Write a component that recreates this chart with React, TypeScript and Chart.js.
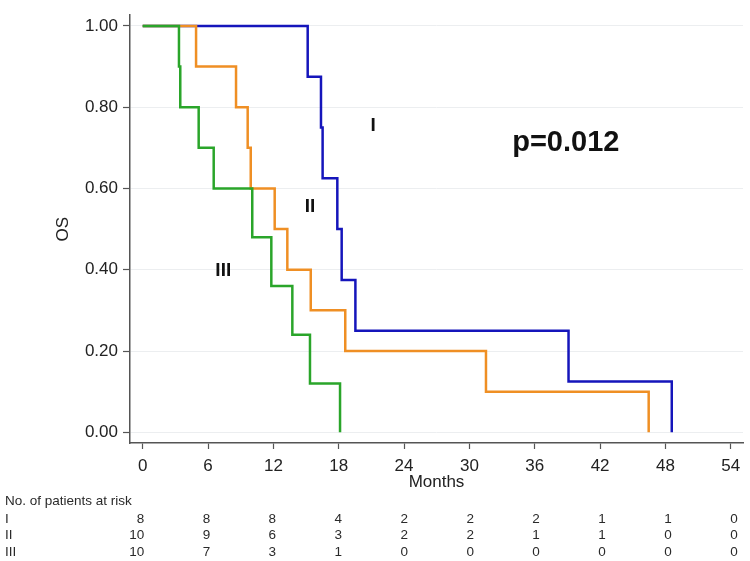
import React, { useEffect, useRef } from "react";
import { Chart, registerables } from "chart.js";

Chart.register(...registerables);

// ---- Data ----
const xTickValues = [0, 6, 12, 18, 24, 30, 36, 42, 48, 54];
const yTickValues = [0, 0.2, 0.4, 0.6, 0.8, 1.0];

const groupNames = ["I", "II", "III"];
const groupColors = ["#1515bb", "#ef8f24", "#2aa52a"];

const timesI = [0, 15.15, 16.37, 16.52, 17.87, 18.27, 19.53, 39.1, 48.58];
const survI = [1, 0.875, 0.75, 0.625, 0.5, 0.375, 0.25, 0.125, 0];

const timesII = [0, 4.9, 8.57, 9.64, 9.92, 12.12, 13.28, 15.43, 18.6, 31.52, 46.46];
const survII = [1, 0.9, 0.8, 0.7, 0.6, 0.5, 0.4, 0.3, 0.2, 0.1, 0];

const timesIII = [0, 3.33, 3.45, 5.14, 6.52, 10.06, 11.81, 13.74, 15.36, 18.12];
const survIII = [1, 0.9, 0.8, 0.7, 0.6, 0.48, 0.36, 0.24, 0.12, 0];

const riskHeader = "No. of patients at risk";
const riskI = [8, 8, 8, 4, 2, 2, 2, 1, 1, 0];
const riskII = [10, 9, 6, 3, 2, 2, 1, 1, 0, 0];
const riskIII = [10, 7, 3, 1, 0, 0, 0, 0, 0, 0];

const curveLabelX = [21.15, 15.36, 7.4];
const curveLabelY = [0.755, 0.554, 0.397];
const pValueText = "p=0.012";
const pValueX = 38.85;
const pValueY = 0.712;

const FONT = '"Liberation Sans", Arial, sans-serif';

const toPoints = (t: number[], s: number[]) => t.map((v, i) => ({ x: v, y: s[i] }));

const overlayPlugin = {
  id: "overlay",
  afterDraw(chart: any) {
    const { ctx } = chart;
    const x = chart.scales.x;
    const y = chart.scales.y;
    ctx.save();
    // curve labels
    ctx.fillStyle = "#111";
    ctx.textAlign = "center";
    ctx.textBaseline = "middle";
    ctx.font = `bold 19px ${FONT}`;
    groupNames.forEach((g, i) => {
      ctx.fillText(g, x.getPixelForValue(curveLabelX[i]), y.getPixelForValue(curveLabelY[i]));
    });
    ctx.font = `bold 29px ${FONT}`;
    ctx.fillText(pValueText, x.getPixelForValue(pValueX), y.getPixelForValue(pValueY));

    // risk table
    ctx.fillStyle = "#2a2a2a";
    ctx.font = `13.5px ${FONT}`;
    ctx.textAlign = "left";
    ctx.fillText(riskHeader, 5, 501);
    const rows = [riskI, riskII, riskIII];
    const rowY = [519, 535.5, 552];
    rows.forEach((row, r) => {
      ctx.textAlign = "left";
      ctx.fillText(groupNames[r], 5, rowY[r]);
      ctx.textAlign = "right";
      row.forEach((n, c) => {
        ctx.fillText(String(n), x.getPixelForValue(xTickValues[c]) + 1.5 + c * 0.6, rowY[r]);
      });
    });
    ctx.restore();
  },
};

export default function App() {
  const canvasRef = useRef<HTMLCanvasElement | null>(null);

  useEffect(() => {
    if (!canvasRef.current) return;
    const series = [
      [timesI, survI],
      [timesII, survII],
      [timesIII, survIII],
    ];
    const chart = new Chart(canvasRef.current, {
      type: "line",
      data: {
        datasets: series.map(([t, s], i) => ({
          label: groupNames[i],
          data: toPoints(t as number[], s as number[]),
          borderColor: groupColors[i],
          backgroundColor: groupColors[i],
          borderWidth: 2.5,
          pointRadius: 0,
          stepped: "before" as const,
          fill: false,
          order: 3 - i,
        })),
      },
      options: {
        responsive: false,
        animation: false,
        layout: { padding: { top: 5, right: 7, left: 0, bottom: 68.3 } },
        plugins: {
          legend: { display: false },
          tooltip: { enabled: false },
        },
        scales: {
          x: {
            type: "linear",
            min: -1.166,
            max: 55.12,
            afterFit: (scale: any) => {
              scale.height = 49.7;
            },
            afterBuildTicks: (scale: any) => {
              scale.ticks = xTickValues.map((v) => ({ value: v }));
            },
            ticks: {
              font: { family: FONT, size: 17 },
              color: "#222",
              padding: 7,
              maxRotation: 0,
              autoSkip: false,
            },
            grid: {
              drawOnChartArea: false,
              drawTicks: true,
              tickLength: 6,
              tickColor: "#555",
              tickWidth: 1.2,
            },
            border: { display: true, color: "#555", width: 1.5 },
            title: {
              display: true,
              text: "Months",
              font: { family: FONT, size: 17 },
              color: "#222",
              padding: { top: 0, bottom: 0 },
            },
          },
          y: {
            type: "linear",
            min: -0.0264,
            max: 1.0264,
            afterFit: (scale: any) => {
              scale.width = 130;
            },
            afterBuildTicks: (scale: any) => {
              scale.ticks = yTickValues.map((v) => ({ value: v }));
            },
            ticks: {
              font: { family: FONT, size: 17 },
              color: "#222",
              padding: 5,
              callback: (v: any) => Number(v).toFixed(2),
            },
            grid: {
              color: "#eceef0",
              lineWidth: 1,
              drawTicks: true,
              tickLength: 7,
              tickColor: "#555",
              tickWidth: 1.2,
            },
            border: { display: true, color: "#555", width: 1.5 },
            title: {
              display: true,
              text: "OS",
              font: { family: FONT, size: 17 },
              color: "#222",
              padding: { top: 53, bottom: 0 },
            },
          },
        },
      },
      plugins: [overlayPlugin],
    });
    return () => chart.destroy();
  }, []);

  return (
    <div style={{ position: "absolute", left: 0, top: 0, width: 750, height: 561, background: "#fff" }}>
      <canvas ref={canvasRef} width={750} height={561} style={{ display: "block" }} />
    </div>
  );
}
